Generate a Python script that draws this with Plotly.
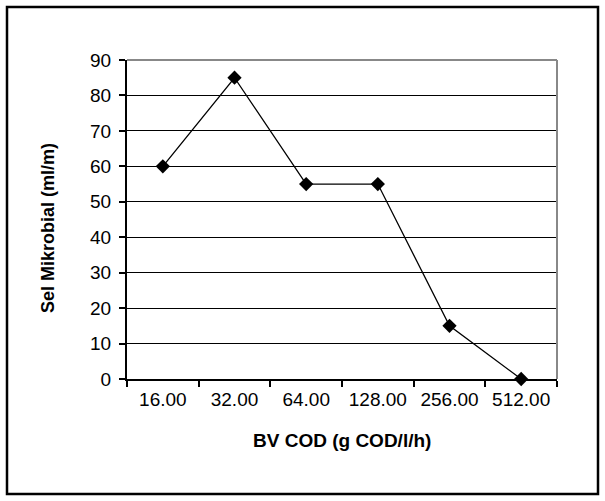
import plotly.graph_objects as go

# Data
categories = ["16.00", "32.00", "64.00", "128.00", "256.00", "512.00"]
sel_mikrobial = [60, 85, 55, 55, 15, 0]
y_ticks = [0, 10, 20, 30, 40, 50, 60, 70, 80, 90]

W, H = 605, 501
L, R, T, B = 127, 557, 60, 379

font_family = "Liberation Sans"

fig = go.Figure()
fig.add_trace(go.Scatter(
    x=categories,
    y=sel_mikrobial,
    mode="lines+markers",
    line=dict(color="black", width=1.3),
    marker=dict(symbol="diamond", size=11, color="black"),
    showlegend=False,
    cliponaxis=False,
))

pw, ph = R - L, B - T


def px_to_paper_x(px):
    return (px - L) / pw


def px_to_paper_y(py):
    return (B - py) / ph


fig.update_layout(
    width=W,
    height=H,
    margin=dict(l=L, r=W - R, t=T, b=H - B),
    paper_bgcolor="white",
    plot_bgcolor="white",
    font=dict(family=font_family, size=19, color="black"),
    xaxis=dict(
        type="category",
        tickson="boundaries",
        ticks="outside",
        ticklen=6,
        tickcolor="black",
        tickwidth=1.5,
        showline=True,
        linecolor="black",
        linewidth=2,
        showgrid=False,
        zeroline=False,
        tickfont=dict(family=font_family, size=19),
        ticklabelstandoff=2,
        range=[-0.5, len(categories) - 0.5],
    ),
    yaxis=dict(
        range=[0, 90],
        tickvals=y_ticks,
        ticks="outside",
        ticklen=6,
        tickcolor="black",
        tickwidth=1.5,
        showline=True,
        linecolor="black",
        linewidth=2,
        showgrid=True,
        gridcolor="black",
        gridwidth=1.3,
        zeroline=False,
        tickfont=dict(family=font_family, size=19),
        ticklabelstandoff=4,
    ),
    shapes=[
        # outer chart frame
        dict(type="rect", xref="paper", yref="paper",
             x0=px_to_paper_x(7), x1=px_to_paper_x(598),
             y0=px_to_paper_y(494), y1=px_to_paper_y(7),
             line=dict(color="black", width=2.5), layer="below"),
        # grey top and right edges of the plot area
        dict(type="line", xref="paper", yref="paper", x0=0, x1=1, y0=1, y1=1,
             line=dict(color="#888888", width=2), layer="above"),
        dict(type="line", xref="paper", yref="paper", x0=1, x1=1, y0=0, y1=1,
             line=dict(color="#888888", width=2), layer="above"),
    ],
    annotations=[
        dict(text="<b>BV COD (g COD/l/h)</b>", xref="paper", yref="paper",
             x=0.5, y=px_to_paper_y(440), showarrow=False,
             font=dict(family=font_family, size=19),
             xanchor="center", yanchor="middle"),
        dict(text="<b>Sel Mikrobial (ml/m)</b>", xref="paper", yref="paper",
             x=px_to_paper_x(48), y=px_to_paper_y(228), showarrow=False,
             textangle=-90, font=dict(family=font_family, size=18),
             xanchor="center", yanchor="middle"),
    ],
)

# Put the trace above the grid lines and the grey frame edges
fig.update_layout(xaxis_layer="above traces", yaxis_layer="above traces")

fig.write_html("out.html")
